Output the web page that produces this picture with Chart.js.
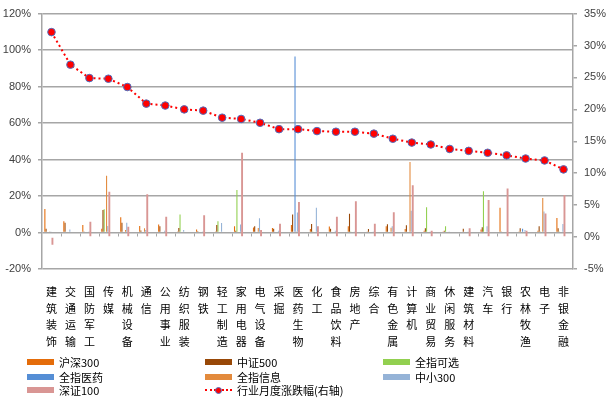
<!DOCTYPE html>
<html>
<head>
<meta charset="utf-8">
<script src="https://cdn.jsdelivr.net/npm/chart.js@4.4.0/dist/chart.umd.min.js"></script>
<style>
  body { margin: 0; background: #fff; }
  #wrap { position: relative; width: 612px; height: 399px; }
  #box { position: absolute; left: 0; top: 0; width: 612px; height: 399px; }
  #legend { position: absolute; left: 0; top: 0; width: 612px; height: 399px; pointer-events: none;
            font: 11px "Noto Sans CJK SC", sans-serif; color: #000; }
  .item { position: absolute; display: flex; align-items: center; height: 14px; white-space: nowrap; }
  .sw { width: 27px; height: 6px; margin-right: 5px; }
  .ln { position: relative; width: 27px; height: 6px; margin-right: 5px; }
  .ln:before { content: ''; position: absolute; left: 0; right: 0; top: 2px; border-top: 2px dotted #ff0000; }
  .ln:after { content: ''; position: absolute; left: 10px; top: 0; width: 5px; height: 5px; border-radius: 50%;
              background: #ff0000; border: 1px solid #4f6fbf; }
</style>
</head>
<body>
<div id="wrap">
  <div id="box"><canvas id="chart"></canvas></div>
  <div id="legend"></div>
</div>
<script>
// 行业分类
const categories = ['建筑装饰', '交通运输', '国防军工', '传媒', '机械设备', '通信', '公用事业', '纺织服装',
  '钢铁', '轻工制造', '家用电器', '电气设备', '采掘', '医药生物', '化工', '食品饮料', '房地产', '综合',
  '有色金属', '计算机', '商业贸易', '休闲服务', '建筑材料', '汽车', '银行', '农林牧渔', '电子', '非银金融'];

// 左轴 (%)
const hs300  = [12.9, 6.2, 4.1, 2.1, 8.3, 3.6, 4.4, 0.5, 1.6, 0.5, 3.4, 2.7, 2.5, 4.1, 1.9, 3.3, 3.5, 0.5, 3.5, 1.9, 0.9, 0.5, 0.4, 1.6, 13.6, 0.5, 0.9, 8.0];
const zz500  = [2.1, 5.3, 0.5, 12.4, 5.3, 1.1, 3.5, 2.5, 0.7, 4.1, 0.9, 3.5, 2.1, 9.9, 4.6, 2.1, 10.3, 1.9, 4.5, 4.0, 2.4, 1.0, 2.0, 2.9, 0.3, 2.4, 3.5, 2.4];
const kexuan = [0, 0.4, 0, 12.7, 0, 0, 0, 9.9, 0, 6.2, 23.3, 0, 0, 0, 0.5, 0, 0.5, 0, 0, 0, 13.9, 3.5, 0, 22.6, 0, 0, 0.5, 0.5];
const yiyao  = [0, 0, 0, 0, 0, 0, 0, 0, 0, 0, 0, 0, 0, 96.5, 0, 0, 0, 0, 0, 0, 0, 0, 0, 0, 0, 2.1, 0, 0];
const xinxi  = [0.3, 0, 0, 31.1, 1.4, 2.4, 0, 0, 0, 0, 0, 2.5, 0, 0.5, 0, 0, 0, 0, 2.6, 38.6, 0, 0, 0, 0, 0, 0, 18.9, 0];
const zx300  = [0.5, 1.6, 0.5, 3.6, 5.3, 1.4, 0.9, 1.4, 0.5, 5.2, 4.4, 7.8, 0.9, 11.0, 13.6, 0.9, 0.5, 0.5, 3.5, 11.9, 0.3, 0.3, 0.5, 3.5, 0.4, 1.4, 11.5, 4.6];
// 右轴 (%)
const sz100  = [-1.2, 0, 2.4, 7.1, 1.6, 6.7, 3.2, 0, 3.4, 0, 13.2, 1.1, 2.1, 5.5, 1.7, 3.2, 5.6, 2.1, 3.9, 8.1, 1.0, 0, 1.4, 5.8, 7.6, 1.0, 3.7, 6.6];
const monthly = [32.1, 27.0, 24.9, 24.8, 23.5, 20.9, 20.6, 20.0, 19.8, 18.7, 18.5, 17.9, 16.9, 16.9, 16.6, 16.5, 16.5, 16.2,
  15.4, 14.8, 14.5, 13.8, 13.5, 13.2, 12.8, 12.3, 12.0, 10.6];

const leftTicks = [-20, 0, 20, 40, 60, 80, 100, 120];
const rightTicks = [-5, 0, 5, 10, 15, 20, 25, 30, 35];

const barNames  = ['沪深300', '中证500', '全指可选', '全指医药', '全指信息', '中小300'];
const barValues = [hs300, zz500, kexuan, yiyao, xinxi, zx300];
const barColors = ['#e46c0a', '#984807', '#92d050', '#558ed5', '#e38a3c', '#95b3d7'];
const pinkName = '深证100', pinkColor = '#d99694';
const lineName = '行业月度涨跌幅(右轴)';

const gridColor = '#a6a6a6';
const tickFont = { family: 'Liberation Sans', size: 11 };

const datasets = barValues.map((v, i) => ({
  type: 'bar', label: barNames[i], data: v, backgroundColor: barColors[i],
  xAxisID: 'x', yAxisID: 'y', barPercentage: 0.9, categoryPercentage: 0.76, order: 2
}));
datasets.push({
  type: 'bar', label: pinkName, data: sz100, backgroundColor: pinkColor,
  xAxisID: 'x2', yAxisID: 'y1', barPercentage: 1, categoryPercentage: 0.2, order: 1
});
datasets.push({
  type: 'line', label: lineName, data: monthly, xAxisID: 'x', yAxisID: 'y1', order: 0,
  borderColor: '#ff0000', borderWidth: 2, borderDash: [2, 3], tension: 0,
  pointRadius: 3.8, pointBackgroundColor: '#ff0000', pointBorderColor: '#4f6fbf', pointBorderWidth: 1
});

// 0 轴上的小刻度
const zeroTicks = {
  id: 'zeroTicks',
  beforeDatasetsDraw(chart) {
    const { ctx, chartArea, scales } = chart;
    const y0 = Math.round(scales.y.getPixelForValue(0)) + 0.5;
    const step = (chartArea.right - chartArea.left) / categories.length;
    ctx.save();
    ctx.strokeStyle = gridColor;
    ctx.lineWidth = 1;
    ctx.beginPath();
    for (let i = 1; i < categories.length; i++) {
      const x = Math.round(chartArea.left + step * i) + 0.5;
      ctx.moveTo(x, y0);
      ctx.lineTo(x, y0 + 3);
    }
    ctx.stroke();
    ctx.restore();
  }
};

new Chart(document.getElementById('chart'), {
  data: { labels: categories.map(c => c.split('')), datasets },
  options: {
    responsive: true, maintainAspectRatio: false, animation: false,
    layout: { padding: { top: 0, left: 0, right: 0, bottom: 34 } },
    plugins: { legend: { display: false }, tooltip: { enabled: false } },
    scales: {
      x: {
        offset: true,
        grid: { display: false, drawTicks: false },
        border: { display: false },
        ticks: { padding: 15, maxRotation: 0, autoSkip: false, color: '#000',
                 font: { family: 'Noto Sans CJK SC', size: 11, lineHeight: 1.5 } }
      },
      x2: { type: 'category', display: false, offset: true },
      y: {
        position: 'left', min: -20, max: 120,
        afterBuildTicks(s) { s.ticks = leftTicks.map(v => ({ value: v })); },
        grid: { color: gridColor, lineWidth: 1.5, tickLength: 4 },
        border: { color: gridColor, width: 1.5 },
        ticks: { padding: 7, color: '#404040', font: tickFont, callback: v => v + '%' },
        afterFit(s) { s.width = 42; }
      },
      y1: {
        position: 'right', min: -5, max: 35,
        afterBuildTicks(s) { s.ticks = rightTicks.map(v => ({ value: v })); },
        grid: { drawOnChartArea: false, color: gridColor, lineWidth: 1.5, tickLength: 4 },
        border: { color: gridColor, width: 1.5 },
        ticks: { padding: 7, color: '#404040', font: tickFont, callback: v => v + '%' },
        afterFit(s) { s.width = 39; }
      }
    }
  },
  plugins: [zeroTicks]
});

// 图例 (三列)
const legendItems = barNames.map((n, i) => ({ name: n, color: barColors[i] }))
  .concat([{ name: pinkName, color: pinkColor }, { name: lineName, line: true }]);
const colX = [27, 205, 383], rowY = [355, 369.5, 383];
const legend = document.getElementById('legend');
legendItems.forEach((it, i) => {
  const el = document.createElement('div');
  el.className = 'item';
  el.style.left = colX[i % 3] + 'px';
  el.style.top = rowY[Math.floor(i / 3)] + 'px';
  const sw = document.createElement('span');
  if (it.line) sw.className = 'ln';
  else { sw.className = 'sw'; sw.style.background = it.color; }
  el.appendChild(sw);
  el.appendChild(document.createTextNode(it.name));
  legend.appendChild(el);
});
</script>
</body>
</html>
